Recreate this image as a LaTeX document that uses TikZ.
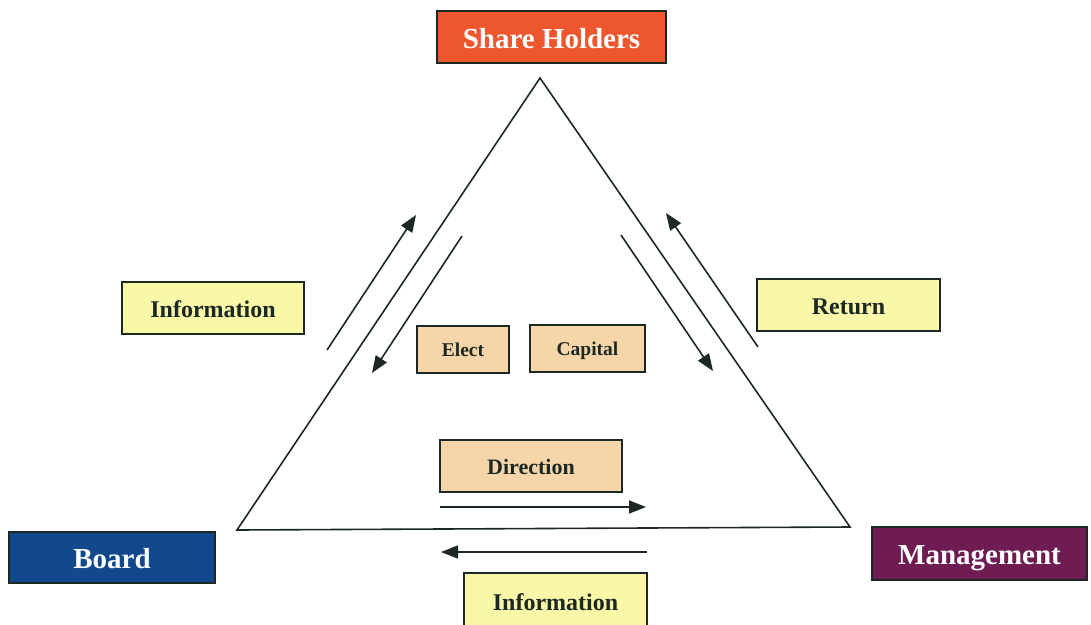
\documentclass[tikz,border=0pt]{standalone}
\usepackage{fontspec}
\setmainfont{Liberation Serif}
\usetikzlibrary{arrows.meta}
\definecolor{shred}{RGB}{238,86,46}
\definecolor{bdblue}{RGB}{18,72,140}
\definecolor{mgpurple}{RGB}{110,28,82}
\definecolor{pale}{RGB}{250,247,168}
\definecolor{tan}{RGB}{246,214,168}
\definecolor{ink}{RGB}{28,40,36}
\tikzset{
  boxbase/.style={draw=ink, line width=1.6pt, inner sep=0pt, text depth=0pt},
  party/.style={boxbase, text=white, text height=22pt,
    font=\bfseries\fontsize{29}{29}\selectfont},
  label/.style={boxbase, fill=pale, text=ink, text height=18.2pt,
    font=\bfseries\fontsize{24}{24}\selectfont},
  flow/.style={boxbase, fill=tan, text=ink, text height=14.8pt,
    font=\bfseries\fontsize{19.5}{19.5}\selectfont},
  edge/.style={draw=ink, line width=1.6pt, line join=miter},
  move/.style={draw=ink, line width=1.6pt, -{Triangle[length=17pt,width=13pt]}}
}
\begin{document}
\begin{tikzpicture}[x=1pt,y=-1pt]
\useasboundingbox (0,0) rectangle (1091,624);
\clip (0,0) rectangle (1091,624);
\fill[white] (0,0) rectangle (1091,624);

% the three parties
\node[party, fill=shred, minimum width=229pt, minimum height=52pt] (sh) at (551.5,37) {Share Holders};
\node[party, fill=bdblue, minimum width=206pt, minimum height=51pt] (bd) at (112,557.5) {Board};
\node[party, fill=mgpurple, minimum width=215pt, minimum height=53pt] (mg) at (979.5,553.5) {Management};

% the governance triangle
\coordinate (top) at (540,78);
\coordinate (bl) at (237,530);
\coordinate (br) at (850,527);
\draw[edge] (top) -- (bl) -- (br) -- cycle;

% flows along the left side
\coordinate (l1s) at (327,350);
\coordinate (l1e) at (416,215);
\coordinate (l2s) at (462,236);
\coordinate (l2e) at (372,373);
\draw[move] (l1s) -- (l1e);
\draw[move] (l2s) -- (l2e);

% flows along the right side
\coordinate (r1s) at (621,235);
\coordinate (r1e) at (713,371);
\coordinate (r2s) at (758,347);
\coordinate (r2e) at (666,213);
\draw[move] (r1s) -- (r1e);
\draw[move] (r2s) -- (r2e);

% flows along the base
\coordinate (b1s) at (440,507);
\coordinate (b1e) at (646,507);
\coordinate (b2s) at (647,552);
\coordinate (b2e) at (441,552);
\draw[move] (b1s) -- (b1e);
\draw[move] (b2s) -- (b2e);

% labels
\node[label, minimum width=182pt, minimum height=52pt] (infol) at (213,308) {Information};
\node[label, minimum width=183pt, minimum height=52pt] (ret) at (848.5,305) {Return};
\node[label, minimum width=183pt, minimum height=56pt] (infob) at (555.5,601) {Information};
\node[flow, minimum width=92pt, minimum height=47pt] (el) at (463,349.5) {Elect};
\node[flow, minimum width=115pt, minimum height=47pt] (cap) at (587.5,348.5) {Capital};
\node[flow, minimum width=182pt, minimum height=52pt, text height=16.7pt, font=\bfseries\fontsize{22}{22}\selectfont] (dir) at (531,466) {Direction};
\end{tikzpicture}
\end{document}
